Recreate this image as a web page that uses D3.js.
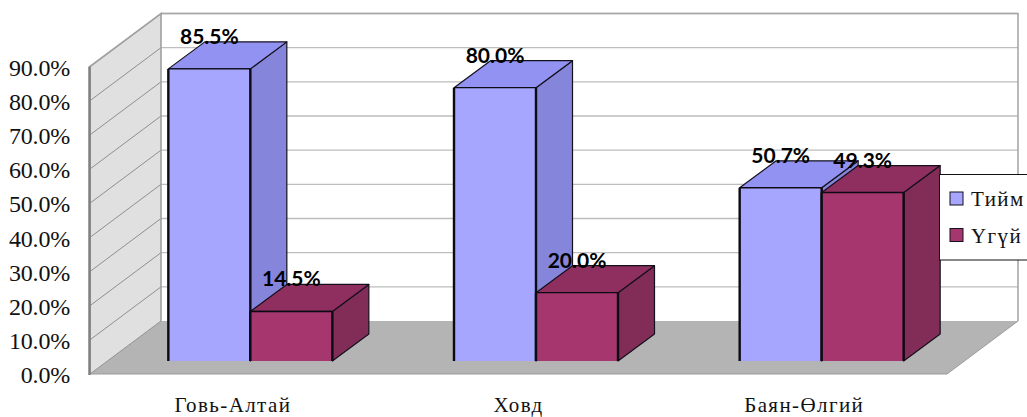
<!DOCTYPE html>
<html>
<head>
<meta charset="utf-8">
<script src="https://cdn.jsdelivr.net/npm/d3@7"></script>
<style>
  html, body { margin: 0; padding: 0; background: #fff; }
  svg { display: block; }
</style>
</head>
<body>
<svg id="chart" width="1027" height="417"></svg>
<script>
const categories = ["Говь-Алтай", "Ховд", "Баян-Өлгий"];
const seriesNames = ["Тийм", "Үгүй"];
const yesValues = [85.5, 80.0, 50.7];
const noValues = [14.5, 20.0, 49.3];
const tickValues = [0, 10, 20, 30, 40, 50, 60, 70, 80, 90];

const svg = d3.select("#chart");
const W = 1027;

// Oblique projection of the plot box
const box = { left: 90, right: 947, front: 374, top: 66.5, dx: 71, dy: -53 };
const barDepth = { dx: 36.5, dy: -27 };
const barInset = { dx: 17.5, dy: -13 };

const x0 = d3.scaleBand().domain(categories).range([box.left, box.right]);
const barWidth = 82;
const x1 = d3.scaleBand().domain(seriesNames).range([-barWidth, barWidth]);
const yFront = d3.scaleLinear().domain([0, 90]).range([box.front, box.top]);
const yBar = v => yFront(v) + barInset.dy;

const poly = pts => d3.line()(pts) + "Z";
const line = d3.line();

// Back wall with its gridlines
const bx0 = box.left + box.dx, bx1 = box.right + box.dx;
const yBack = v => yFront(v) + box.dy;
svg.append("path")
  .attr("d", poly([[bx0, yBack(90)], [bx1, yBack(90)], [bx1, yBack(0)], [bx0, yBack(0)]]))
  .attr("fill", "#fff");

svg.append("g").selectAll("line").data(tickValues.slice(1)).join("line")
  .attr("x1", bx0).attr("x2", bx1)
  .attr("y1", yBack).attr("y2", yBack)
  .attr("stroke", "#bdbdbd").attr("stroke-width", 1.4);

svg.append("path")
  .attr("d", line([[bx0, yBack(90)], [bx1, yBack(90)], [bx1, yBack(0)]]))
  .attr("fill", "none").attr("stroke", "#a8a8a8").attr("stroke-width", 1.6);

// Floor
svg.append("path")
  .attr("d", poly([[box.left, yFront(0)], [box.right, yFront(0)], [bx1, yBack(0)], [bx0, yBack(0)]]))
  .attr("fill", "#b4b4b4");
svg.append("path")
  .attr("d", line([[box.left, yFront(0)], [box.right, yFront(0)], [bx1, yBack(0)]]))
  .attr("fill", "none").attr("stroke", "#9a9a9a").attr("stroke-width", 1);

// Left wall with its gridlines
svg.append("path")
  .attr("d", poly([[box.left, yFront(90)], [bx0, yBack(90)], [bx0, yBack(0)], [box.left, yFront(0)]]))
  .attr("fill", "#e0e0e0");
svg.append("g").selectAll("line").data(tickValues).join("line")
  .attr("x1", box.left).attr("x2", bx0)
  .attr("y1", yFront).attr("y2", yBack)
  .attr("stroke", "#8f8f8f").attr("stroke-width", 1);
svg.append("path")
  .attr("d", line([[box.left, yFront(0)], [box.left, yFront(90)], [bx0, yBack(90)], [bx0, yBack(0)]]))
  .attr("fill", "none").attr("stroke", "#a0a0a0").attr("stroke-width", 1.6);
svg.append("line")
  .attr("x1", box.left - 0.5).attr("x2", box.left - 0.5)
  .attr("y1", yFront(90)).attr("y2", yFront(0) + 1)
  .attr("stroke", "#808080").attr("stroke-width", 2.5);

// Vertical value axis
const yAxis = d3.axisLeft(yFront)
  .tickValues(tickValues)
  .tickSize(0)
  .tickPadding(20)
  .tickFormat(v => d3.format(".1f")(v) + "%");
const yAxisG = svg.append("g")
  .attr("transform", `translate(${box.left},1)`)
  .call(yAxis);
yAxisG.select(".domain").remove();
yAxisG.selectAll("text")
  .attr("font-family", "'Liberation Serif', serif")
  .attr("font-size", 24)
  .attr("letter-spacing", -0.2)
  .attr("fill", "#111");

// Category labels
const xAxis = d3.axisBottom(x0).tickSize(0).tickPadding(0);
const xAxisG = svg.append("g")
  .attr("transform", `translate(0,${box.front + 23})`)
  .call(xAxis);
xAxisG.select(".domain").remove();
xAxisG.selectAll("text")
  .attr("font-family", "'Liberation Serif', serif")
  .attr("font-size", 21)
  .attr("letter-spacing", 1.4)
  .attr("fill", "#111");

// Bars as oblique boxes
const palette = [
  { front: "#a6a6ff", top: "#9292f2", side: "#8585dc" },
  { front: "#a5366e", top: "#8f2f5f", side: "#822c58" }
];
const seriesValues = [yesValues, noValues];
const barData = categories.flatMap((c, ci) => seriesNames.map((s, si) => {
  const xl = x0(c) + x0.bandwidth() / 2 + barInset.dx + x1(s);
  return { c, s, si, v: seriesValues[si][ci], xl, xr: xl + x1.bandwidth() };
}));

const bars = svg.append("g").selectAll("g").data(barData).join("g");
const D = barDepth;
bars.append("path").attr("fill", d => palette[d.si].side)
  .attr("stroke", "#14101c").attr("stroke-width", 1.2)
  .attr("stroke-linejoin", "round")
  .attr("d", d => poly([[d.xr, yBar(d.v)], [d.xr + D.dx, yBar(d.v) + D.dy], [d.xr + D.dx, yBar(0) + D.dy], [d.xr, yBar(0)]]));
bars.append("path").attr("fill", d => palette[d.si].top)
  .attr("stroke", "#14101c").attr("stroke-width", 1.2)
  .attr("stroke-linejoin", "round")
  .attr("d", d => poly([[d.xl, yBar(d.v)], [d.xr, yBar(d.v)], [d.xr + D.dx, yBar(d.v) + D.dy], [d.xl + D.dx, yBar(d.v) + D.dy]]));
bars.append("path").attr("fill", d => palette[d.si].front)
  .attr("d", d => poly([[d.xl, yBar(d.v)], [d.xr, yBar(d.v)], [d.xr, yBar(0)], [d.xl, yBar(0)]]));
bars.append("path").attr("fill", "none")
  .attr("stroke", "#0c0a12").attr("stroke-width", 2.4)
  .attr("d", d => line([[d.xl, yBar(0)], [d.xl, yBar(d.v)]]) + line([[d.xr, yBar(d.v)], [d.xr, yBar(0)]]));
bars.append("path").attr("fill", "none")
  .attr("stroke", "#0c0a12").attr("stroke-width", 1.4)
  .attr("d", d => line([[d.xl, yBar(d.v)], [d.xr, yBar(d.v)]]));

// Legend, running off the right edge
const legend = svg.append("g");
legend.append("rect")
  .attr("x", 939.5).attr("y", 174.5)
  .attr("width", W).attr("height", 85.5)
  .attr("fill", "#fff").attr("stroke", "#111").attr("stroke-width", 1);
const legendRows = legend.selectAll("g").data(seriesNames).join("g")
  .attr("transform", (d, i) => `translate(950,${192 + i * 36.5})`);
legendRows.append("rect")
  .attr("width", 13).attr("height", 13)
  .attr("fill", (d, i) => palette[i].front)
  .attr("stroke", "#14101c").attr("stroke-width", 1);
legendRows.append("text")
  .attr("x", 21).attr("y", 14)
  .attr("font-family", "'Liberation Serif', serif")
  .attr("font-size", 21)
  .attr("letter-spacing", 1.4)
  .attr("fill", "#111")
  .text(d => d);

// Value labels over the bars
svg.append("g").selectAll("text").data(barData).join("text")
  .attr("x", d => (d.xl + d.xr) / 2)
  .attr("y", d => yBar(d.v) - 25)
  .attr("text-anchor", "middle")
  .attr("font-family", "Lato, 'Open Sans', sans-serif")
  .attr("font-weight", 700)
  .attr("font-size", 21)
  .attr("fill", "#000")
  .text(d => d3.format(".1f")(d.v) + "%");
</script>
</body>
</html>
